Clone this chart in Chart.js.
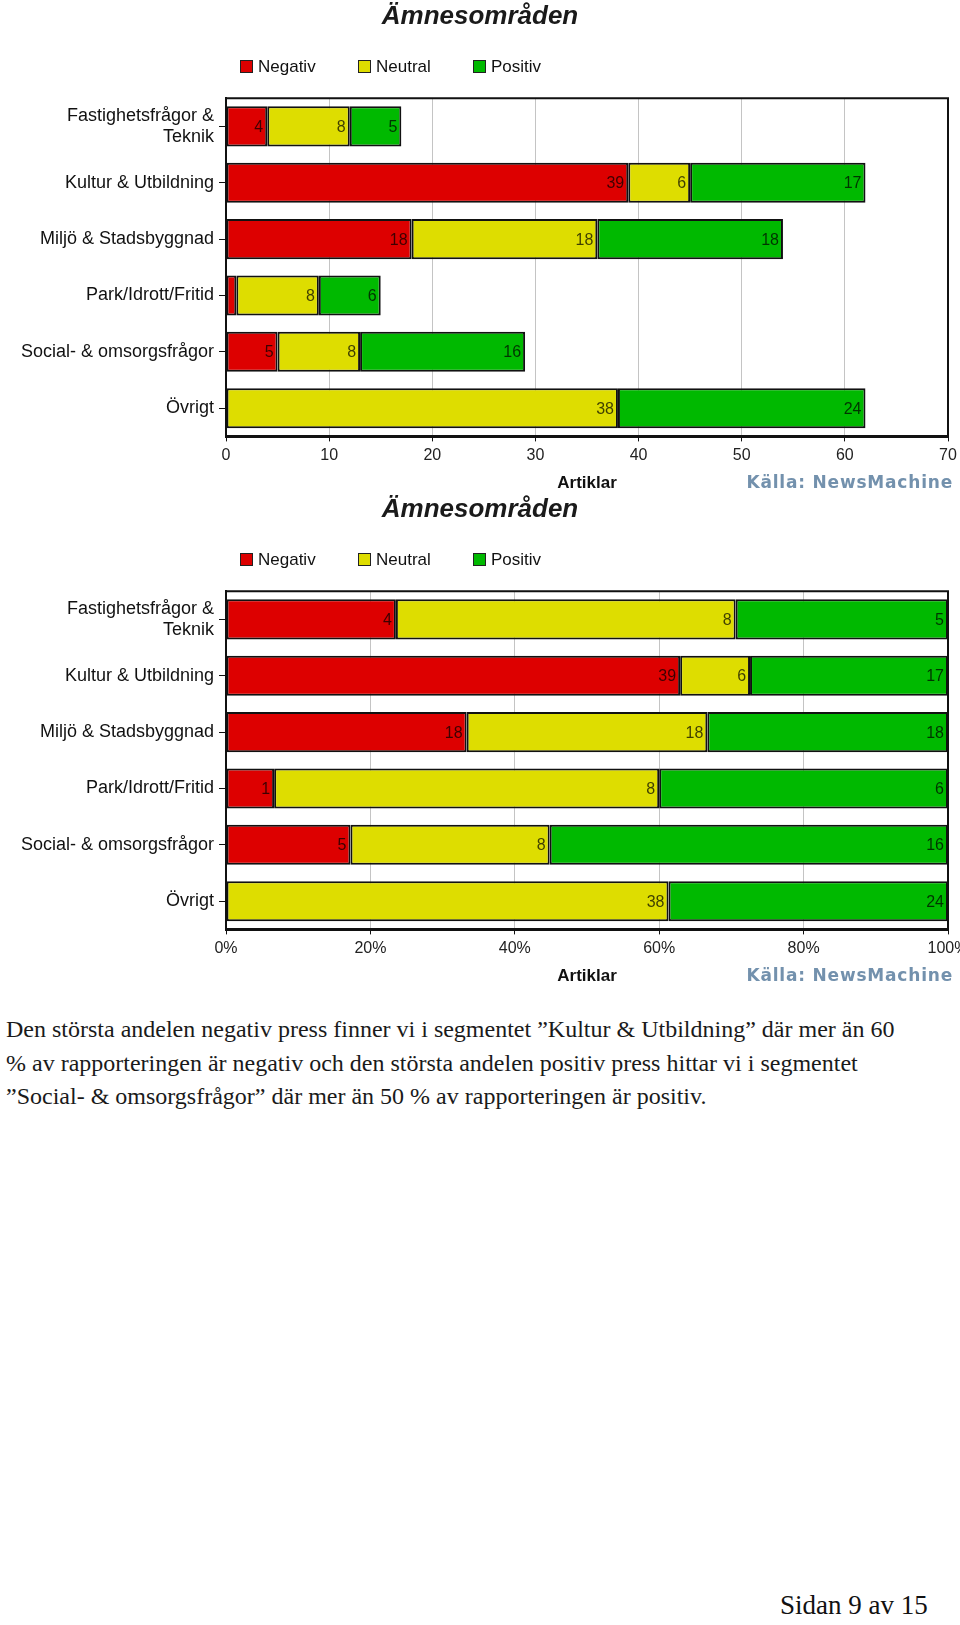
<!DOCTYPE html>
<html>
<head>
<meta charset="utf-8">
<script src="https://cdn.jsdelivr.net/npm/chart.js@4.4.1/dist/chart.umd.min.js"></script>
<style>
  body { margin: 0; background: #fff; width: 960px; height: 1625px; position: relative; overflow: hidden;
         font-family: Arial, "Liberation Sans", sans-serif; }
  canvas { position: absolute; left: 0; }
  .legend { position: absolute; left: 0; width: 960px; height: 20px; }
  .item { position: absolute; top: 0; height: 20px; font-size: 17px; line-height: 20px; color: #111; }
  .item i { position: absolute; left: 0; top: 3px; width: 11px; height: 11px; border: 1px solid #222; }
  .item span { position: absolute; left: 18px; white-space: nowrap; }
  .source { position: absolute; right: 7px; height: 22px; line-height: 22px; font: bold 17px "DejaVu Sans", sans-serif;
            letter-spacing: 0.8px; color: #7391ad; white-space: nowrap; }
  .text { position: absolute; left: 6px; top: 1013px; font: 24px "Liberation Serif", serif; line-height: 33.5px;
          color: #1a1a1a; white-space: nowrap; }
  .page { position: absolute; left: 780px; top: 1590px; font: 27px "Liberation Serif", serif; line-height: 30px; color: #111; }
</style>
</head>
<body>
<canvas id="chartCount" width="960" height="498" style="top:0"></canvas>
<canvas id="chartShare" width="960" height="498" style="top:493px"></canvas>
<div class="legend" id="legendCount" style="top:57px"></div>
<div class="legend" id="legendShare" style="top:550px"></div>
<div class="source" style="top:472px">Källa: NewsMachine</div>
<div class="source" style="top:965px">Källa: NewsMachine</div>
<div class="text">Den största andelen negativ press finner vi i segmentet ”Kultur &amp; Utbildning” där mer än 60<br>% av rapporteringen är negativ och den största andelen positiv press hittar vi i segmentet<br>”Social- &amp; omsorgsfrågor” där mer än 50 % av rapporteringen är positiv.</div>
<div class="page">Sidan 9 av 15</div>
<script>
const categories = [['Fastighetsfrågor &', 'Teknik'], 'Kultur & Utbildning', 'Miljö & Stadsbyggnad',
  'Park/Idrott/Fritid', 'Social- & omsorgsfrågor', 'Övrigt'];
const seriesNames = ['Negativ', 'Neutral', 'Positiv'];
const negativ = [4, 39, 18, 1, 5, 0];
const neutral = [8, 6, 18, 8, 8, 38];
const positiv = [5, 17, 18, 6, 16, 24];
const countTicks = [0, 10, 20, 30, 40, 50, 60, 70];
const percentTicks = [0, 20, 40, 60, 80, 100];

const colors = ['#dd0000', '#dedd00', '#00b900'];
const series = [negativ, neutral, positiv];
const totals = categories.map((c, j) => negativ[j] + neutral[j] + positiv[j]);

// value label at the right end of every segment, skipped when it does not fit
const valueLabels = {
  id: 'valueLabels',
  afterDatasetsDraw(chart) {
    const ctx = chart.ctx;
    ctx.save();
    ctx.font = '16px Arial';
    ctx.fillStyle = 'rgba(0,0,0,0.72)';
    ctx.textAlign = 'right';
    ctx.textBaseline = 'middle';
    chart.data.datasets.forEach((ds, i) => {
      chart.getDatasetMeta(i).data.forEach((bar, j) => {
        const n = ds.counts[j];
        if (!n) return;
        const text = String(n);
        if (ctx.measureText(text).width + 6 > bar.x - bar.base) return;
        ctx.fillText(text, bar.x - 4, bar.y + 1);
      });
    });
    ctx.restore();
  }
};

// top and right sides of the plot frame
const frame = {
  id: 'frame',
  beforeDatasetsDraw(chart) {
    const a = chart.chartArea, ctx = chart.ctx;
    ctx.save();
    ctx.strokeStyle = '#111';
    ctx.lineWidth = 2;
    ctx.beginPath();
    ctx.moveTo(a.left, a.top);
    ctx.lineTo(a.right, a.top);
    ctx.lineTo(a.right, a.bottom);
    ctx.stroke();
    ctx.restore();
  }
};

function buildLegend(id) {
  const box = document.getElementById(id);
  const lefts = [240, 358, 473];
  seriesNames.forEach((name, i) => {
    const el = document.createElement('div');
    el.className = 'item';
    el.style.left = lefts[i] + 'px';
    el.innerHTML = '<i style="background:' + colors[i] + '"></i><span>' + name + '</span>';
    box.appendChild(el);
  });
}

function makeChart(id, asPercent) {
  const ticks = asPercent ? percentTicks : countTicks;
  const datasets = seriesNames.map((name, i) => ({
    label: name,
    counts: series[i],
    data: asPercent ? series[i].map((v, j) => v / totals[j] * 100) : series[i],
    backgroundColor: colors[i],
    borderColor: '#111',
    borderWidth: 2,
    borderSkipped: false,
    barPercentage: 0.71,
    categoryPercentage: 1
  }));

  return new Chart(document.getElementById(id), {
    type: 'bar',
    data: { labels: categories, datasets: datasets },
    options: {
      indexAxis: 'y',
      responsive: false,
      animation: false,
      devicePixelRatio: 1,
      layout: { padding: { left: 12, right: 12, top: 0, bottom: 4 } },
      plugins: {
        legend: { display: false },
        tooltip: { enabled: false },
        title: {
          display: true,
          text: 'Ämnesområden',
          color: '#1a1a1a',
          font: { family: 'Arial', size: 26, weight: 'bold', style: 'italic' },
          padding: { top: 1, bottom: 66 }
        }
      },
      scales: {
        x: {
          stacked: true,
          min: ticks[0],
          max: ticks[ticks.length - 1],
          afterFit: s => { s.paddingLeft = 0; s.paddingRight = 0; },
          ticks: {
            stepSize: ticks[1] - ticks[0],
            color: '#222',
            padding: 5,
            font: { family: 'Arial', size: 16 },
            callback: v => asPercent ? v + '%' : v
          },
          grid: { color: '#c4c4c4', lineWidth: 1, tickLength: 5, tickColor: '#111' },
          border: { color: '#111', width: 3 },
          title: {
            display: true,
            text: 'Artiklar',
            color: '#111',
            font: { family: 'Arial', size: 17, weight: 'bold' },
            padding: { top: 3, bottom: 0 }
          }
        },
        y: {
          stacked: true,
          afterFit: s => { s.width = 214; },
          ticks: {
            color: '#111',
            padding: 5,
            font: { family: 'Arial', size: 18, lineHeight: 1.2 }
          },
          grid: { drawOnChartArea: false, offset: false, tickLength: 7, color: '#111' },
          border: { color: '#111', width: 2 }
        }
      }
    },
    plugins: [frame, valueLabels]
  });
}

buildLegend('legendCount');
buildLegend('legendShare');
makeChart('chartCount', false);
makeChart('chartShare', true);
</script>
</body>
</html>
